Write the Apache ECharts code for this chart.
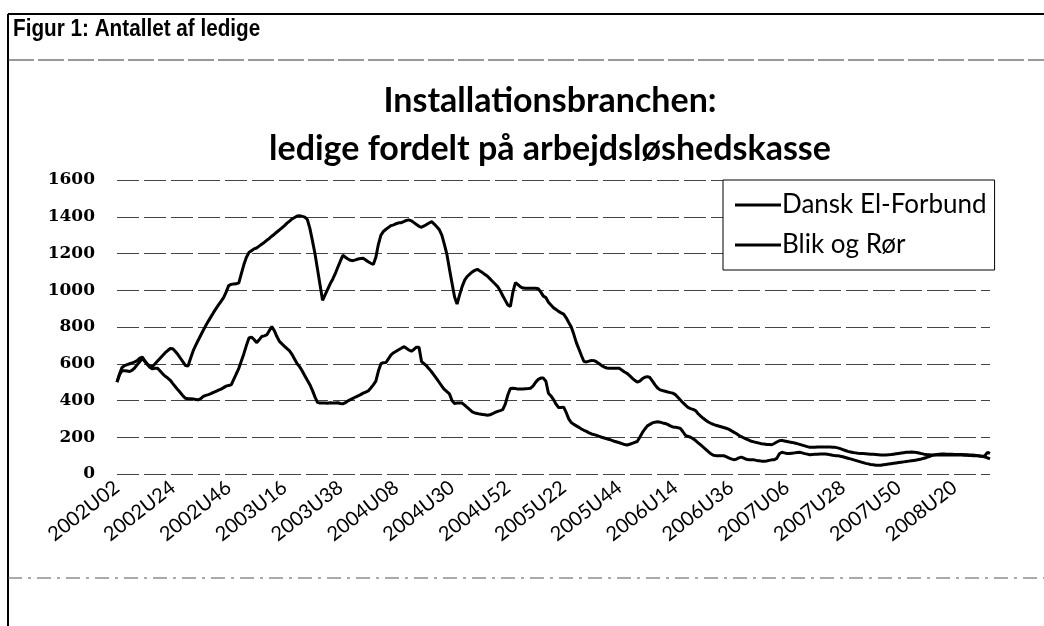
<!DOCTYPE html>
<html lang="da">
<head>
<meta charset="UTF-8">
<title>Figur 1: Antallet af ledige</title>
<script src="https://cdn.jsdelivr.net/npm/echarts@6/dist/echarts.min.js"></script>
<style>
    html, body { margin: 0; padding: 0; background: #fff; }
    #main { width: 1044px; height: 626px; }
</style>
</head>
<body>
<div id="main"></div>
<script type="text/javascript">
    // ledige pr. uge, aflaest fra figuren (fra 2002U02, en vaerdi pr. uge)
    var elForbund = [
        500, 545, 580, 590, 595, 600, 605, 610, 618, 630,
        636, 615, 598, 588, 585, 600, 615, 630, 645, 660,
        672, 683, 682, 667, 650, 630, 610, 590, 588, 630,
        670, 700, 728, 755, 782, 808, 832, 855, 878, 900,
        920, 940, 960, 990, 1025, 1032, 1034, 1035, 1040, 1090,
        1140, 1180, 1205, 1215, 1225, 1230, 1240, 1250, 1260, 1272,
        1282, 1294, 1305, 1317, 1328, 1340, 1352, 1365, 1376, 1388,
        1396, 1404, 1405, 1402, 1398, 1385, 1337, 1270, 1200, 1115,
        1030, 945, 975, 1005, 1035, 1060, 1090, 1125, 1158, 1190,
        1180, 1170, 1163, 1161, 1165, 1170, 1173, 1174, 1165, 1155,
        1147, 1140, 1180, 1250, 1300, 1320, 1332, 1342, 1352, 1356,
        1362, 1367, 1368, 1374, 1380, 1383, 1378, 1368, 1358, 1348,
        1343, 1350, 1358, 1366, 1373, 1360, 1345, 1330, 1300, 1250,
        1195, 1115, 1040, 965, 925, 975, 1020, 1055, 1075, 1088,
        1100, 1108, 1114, 1105, 1096, 1086, 1076, 1062, 1048, 1034,
        1020, 997, 970, 945, 920, 912, 990, 1042, 1030, 1018,
        1012, 1011, 1011, 1011, 1011, 1011, 1008, 990, 968, 960,
        935, 920, 905, 895, 885, 877, 870, 850, 825, 800,
        760, 715, 680, 645, 612, 610, 614, 618, 617, 610,
        600, 590, 582, 577, 576, 576, 576, 576, 575, 565,
        555, 548, 535, 522, 510, 500, 505, 518, 527, 530,
        525, 505, 485, 468, 458, 454, 450, 446, 443, 440,
        432, 418, 403, 388, 375, 362, 356, 352, 345, 328,
        315, 303, 293, 283, 276, 270, 265, 261, 257, 253,
        249, 244, 236, 228, 220, 211, 203, 196, 190, 184,
        178, 175, 171, 168, 165, 163, 161, 160, 159, 166,
        174, 181, 183, 180, 177, 174, 172, 169, 165, 161,
        157, 153, 149, 146, 145, 146, 147, 147, 147, 147,
        147, 147, 146, 145, 142, 138, 133, 128, 123, 120,
        117, 115, 113, 112, 111, 110, 109, 108, 107, 106,
        105, 104, 104, 104, 105, 106, 108, 110, 112, 114,
        116, 118, 119, 120, 119, 117, 114, 111, 108, 106,
        105, 104, 104, 104, 104, 104, 104, 104, 104, 104,
        104, 103, 103, 103, 102, 102, 101, 100, 100, 99,
        98, 96, 100, 118, 112
    ];
    var blikRor = [
        500, 540, 562, 562, 560, 558, 565, 578, 595, 612,
        628, 612, 595, 580, 572, 575, 576, 560, 545, 532,
        522, 510, 492, 475, 458, 442, 425, 412, 410, 410,
        408, 406, 404, 410, 422, 428, 432, 437, 444, 450,
        456, 462, 470, 478, 482, 485, 515, 545, 575, 615,
        655, 700, 740, 745, 732, 715, 730, 748, 752, 757,
        780, 803, 780, 748, 722, 708, 695, 682, 670, 650,
        625, 600, 583, 560, 535, 510, 486, 455, 420, 390,
        386, 387, 386, 385, 388, 386, 386, 388, 384, 382,
        388, 398, 405, 412, 419, 425, 432, 440, 446, 452,
        468, 485, 505, 560, 600, 606, 607, 628, 648, 660,
        668, 676, 684, 693, 685, 675, 668, 678, 690, 690,
        612, 600, 588, 572, 555, 537, 518, 498, 478, 460,
        448, 436, 400, 384, 386, 387, 386, 375, 362, 350,
        338, 332, 329, 326, 324, 322, 320, 322, 328, 335,
        341, 345, 350, 380, 430, 465, 467, 465, 462, 462,
        463, 464, 465, 467, 480, 500, 515, 522, 522, 505,
        440, 425, 405, 380, 362, 362, 364, 335, 300, 280,
        270, 262, 254, 245, 238, 232, 224, 218, 214, 210,
        205, 200, 196, 192, 188, 183, 178, 174, 170, 165,
        160, 158, 162, 167, 172, 177, 200, 225, 245, 262,
        270, 278, 282, 284, 282, 278, 275, 270, 262, 256,
        255, 252, 248, 230, 210, 205, 200, 192, 182, 170,
        158, 146, 134, 122, 110, 102, 100, 100, 100, 100,
        94, 88, 82, 78, 80, 88, 92, 86, 80, 78,
        78, 77, 74, 72, 70, 69, 71, 74, 77, 78,
        85, 110, 118, 115, 112, 111, 113, 115, 117, 118,
        115, 111, 108, 105, 106, 107, 108, 109, 109, 109,
        107, 105, 102, 100, 100, 97, 94, 90, 86, 82,
        78, 74, 70, 66, 62, 58, 55, 52, 50, 48,
        47, 48, 50, 52, 54, 56, 58, 60, 62, 64,
        66, 68, 70, 72, 74, 76, 79, 82, 86, 90,
        95, 100, 104, 106, 108, 109, 109, 108, 107, 107,
        106, 106, 106, 106, 105, 105, 104, 103, 102, 100,
        98, 96, 93, 88, 82
    ];
    var seriesNames = ['Dansk El-Forbund', 'Blik og Rør'];
    var yMin = 0, yMax = 1600, yStep = 200;
    var startYear = 2002, startWeek = 2, weeksPerYear = 52;
    var labelEvery = 22;

    // ugebetegnelser 2002U02, 2002U03, ...
    var weeks = [];
    for (var i = 0; i < elForbund.length; i++) {
        var n = startWeek - 1 + i;
        var yr = startYear + Math.floor(n / weeksPerYear);
        var wk = n % weeksPerYear + 1;
        weeks.push(yr + 'U' + (wk < 10 ? '0' + wk : wk));
    }

    var myChart = echarts.init(document.getElementById('main'));
    var option = {
        animation: false,
        backgroundColor: '#fff',
        title: {
            text: 'Installationsbranchen:\nledige fordelt på arbejdsløshedskasse',
            left: 545,
            top: 72,
            textAlign: 'center',
            textStyle: {
                fontFamily: 'Lato',
                fontWeight: 'bold',
                fontSize: 34,
                lineHeight: 48,
                color: '#000'
            }
        },
        legend: {
            orient: 'vertical',
            left: 723,
            top: 180,
            padding: [12, 8, 12, 12],
            itemGap: 14,
            itemWidth: 46,
            itemHeight: 3,
            icon: 'rect',
            backgroundColor: '#fff',
            borderColor: '#000',
            borderWidth: 1,
            textStyle: {
                fontFamily: 'Lato',
                fontSize: 26,
                padding: [0, 0, 0, -4],
                color: '#000'
            },
            data: seriesNames
        },
        grid: {
            left: 117,
            right: 54,
            top: 180,
            bottom: 152
        },
        xAxis: {
            type: 'category',
            data: weeks,
            boundaryGap: false,
            axisLine: {show: false},
            axisTick: {show: false},
            axisLabel: {
                interval: labelEvery - 1,
                rotate: 38,
                margin: 11,
                fontFamily: 'Lato',
                fontSize: 20,
                color: '#000'
            }
        },
        yAxis: {
            type: 'value',
            min: yMin,
            max: yMax,
            interval: yStep,
            axisLine: {show: false},
            axisTick: {show: false},
            axisLabel: {
                margin: 22,
                fontFamily: 'DejaVu Serif',
                fontWeight: 'bold',
                fontSize: 17,
                color: '#000',
                formatter: function (v) { return String(v); }
            },
            splitLine: {
                lineStyle: {color: '#444', width: 1, type: [22, 5]}
            }
        },
        series: [
            {
                name: seriesNames[0],
                type: 'line',
                data: elForbund,
                symbol: 'none',
                lineStyle: {color: '#000', width: 3},
                itemStyle: {color: '#000'}
            },
            {
                name: seriesNames[1],
                type: 'line',
                data: blikRor,
                symbol: 'none',
                lineStyle: {color: '#000', width: 3},
                itemStyle: {color: '#000'}
            }
        ],
        graphic: [
            // ramme og skillelinjer
            {type: 'line', shape: {x1: 8, y1: 14, x2: 1044, y2: 14}, style: {stroke: '#000', lineWidth: 2}},
            {type: 'line', shape: {x1: 8, y1: 14, x2: 8, y2: 626}, style: {stroke: '#000', lineWidth: 2}},
            {type: 'line', shape: {x1: 8, y1: 60, x2: 1044, y2: 60}, style: {stroke: '#333', lineWidth: 1, lineDash: [26, 4]}},
            {type: 'line', shape: {x1: 8, y1: 578, x2: 1044, y2: 578}, style: {stroke: '#555', lineWidth: 1, lineDash: [14, 6, 3, 6]}},
            {
                type: 'text',
                x: 13,
                y: 18,
                scaleX: 0.9,
                style: {
                    text: 'Figur 1: Antallet af ledige',
                    fontFamily: 'Liberation Sans',
                    fontWeight: 'bold',
                    fontSize: 23,
                    fill: '#000'
                }
            }
        ]
    };
    myChart.setOption(option);
    window.addEventListener('resize', function () {
        myChart.resize();
    });
</script>
</body>
</html>
